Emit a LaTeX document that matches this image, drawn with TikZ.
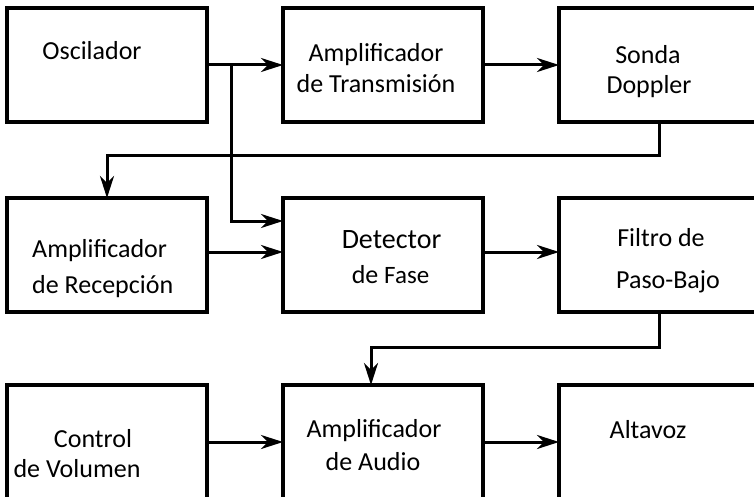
\documentclass[tikz,border=0pt]{standalone}
\usepackage{fontspec}
\setmainfont{Carlito}
\usetikzlibrary{arrows.meta,calc}
\begin{document}
\begin{tikzpicture}[x=1pt,y=-1pt,
  box/.style={draw,line width=3.2pt,minimum width=200pt,minimum height=114pt,inner sep=0pt,outer sep=0pt},
  lbl/.style={font=\fontsize{26}{31}\selectfont,inner sep=0pt,anchor=base},
  arr/.style={line width=3pt,-{Stealth[length=22pt,width=14pt,inset=7pt]}}]
\useasboundingbox (0,0) rectangle (754,497);
\clip (0,0) rectangle (754,497);
% boxes
\node[box] (osc) at (107,65) {};
\node[box] (atx) at (383,65) {};
\node[box] (son) at (659,65) {};
\node[box] (arx) at (107,255) {};
\node[box] (det) at (383,255) {};
\node[box] (fil) at (659,255) {};
\node[box] (vol) at (107,442) {};
\node[box] (aau) at (383,442) {};
\node[box] (alt) at (659,442) {};
% labels
\node[lbl] (t1) at (92,60) {Oscilador};
\node[lbl] (t2) at (376,62) {Amplificador};
\node[lbl] (t3) at (376,93) {de Transmisión};
\node[lbl] (t4) at (648,64) {Sonda};
\node[lbl] (t5) at (649,94) {Doppler};
\node[lbl,anchor=base west] (t6) at (32,257) {Amplificador};
\node[lbl,anchor=base west] (t7) at (32,293) {de Recepción};
\node[lbl,font=\fontsize{28}{32}\selectfont] (t8) at (391.5,248) {Detector};
\node[lbl] (t9) at (390.5,283) {de {\fontsize{25}{30}\selectfont Fase}};
\node[lbl] (t10) at (661,246) {Filtro de};
\node[lbl] (t11) at (668,288) {Paso-Bajo};
\node[lbl] (t12) at (93,447) {Control};
\node[lbl] (t13) at (77,477) {de Volumen};
\node[lbl] (t14) at (374,437) {Amplificador};
\node[lbl] (t15) at (373,470) {de Audio};
\node[lbl] (t16) at (648,438) {Altavoz};
% connectors
\coordinate (j) at ($(osc.east)!0.316!(atx.west)$);
\draw[arr] (osc.east) -- (atx.west);
\draw[arr] (j) |- ([yshift=34pt]det.west);
\draw[arr] (atx.east) -- (son.west);
\draw[arr] (son.south) -- ++(0,34) -| (arx.north);
\draw[arr] ([yshift=3pt]arx.east) -- ([yshift=3pt]det.west);
\draw[arr] ([yshift=3pt]det.east) -- ([yshift=3pt]fil.west);
\draw[arr] (fil.south) -- ++(0,35) -| ([xshift=-12pt]aau.north);
\draw[arr] (vol.east) -- (aau.west);
\draw[arr] (aau.east) -- (alt.west);
\end{tikzpicture}
\end{document}
